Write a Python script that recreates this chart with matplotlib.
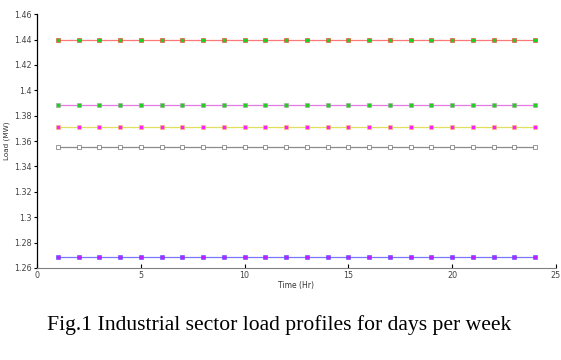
import matplotlib
matplotlib.use("Agg")
import matplotlib.pyplot as plt
import numpy as np

hours = list(range(1, 25))
levels = [1.44, 1.3886, 1.3712, 1.3551, 1.2685]
line_colors = ["#ff7878", "#e678e6", "#e0e060", "#8c8c8c", "#7878ff"]
marker_faces = ["#20d020", "#20d020", "#ff20ff", "#ffffff", "#c020ff"]
marker_edges = ["#ff3030", "#a0a0a0", "#f0c050", "#505050", "#5050ff"]

yticks = [1.26, 1.28, 1.3, 1.32, 1.34, 1.36, 1.38, 1.4, 1.42, 1.44, 1.46]
yticklabels = ["1.26", "1.28", "1.3", "1.32", "1.34", "1.36", "1.38", "1.4", "1.42", "1.44", "1.46"]
xticks = [0, 5, 10, 15, 20, 25]

fig = plt.figure(figsize=(5.61, 3.6), dpi=100)
ax = fig.add_axes([0.066, 0.2556, 0.925, 0.705])
for lv, lc, mf, me in zip(levels, line_colors, marker_faces, marker_edges):
    ax.plot(hours, [lv] * len(hours), color=lc, lw=0.9, marker="s", ms=2.5,
            mfc=mf, mec=me, mew=0.4)

ax.set_xlim(0, 25)
ax.set_ylim(1.26, 1.46)
ax.set_xticks(xticks)
ax.set_xticklabels([str(t) for t in xticks])
ax.set_yticks(yticks)
ax.set_yticklabels(yticklabels)
ax.spines["top"].set_visible(False)
ax.spines["right"].set_visible(False)
ax.spines["left"].set_linewidth(0.9)
ax.spines["bottom"].set_color("#808080")
ax.tick_params(axis="x", direction="in", length=3, labelsize=5.8, pad=2, labelcolor="#444444")
ax.tick_params(axis="y", direction="out", length=2, labelsize=5.8, pad=2, labelcolor="#444444")
ax.set_xlabel("Time (Hr)", fontsize=5.5, labelpad=1, color="#333333")
ax.set_ylabel("Load (MW)", fontsize=5.2, labelpad=3, color="#333333")

fig.text(0.497, 0.097, "Fig.1 Industrial sector load profiles for days per week",
         ha="center", va="center", fontsize=15.6, family="Liberation Serif")

fig.savefig("out.png", dpi=100)
